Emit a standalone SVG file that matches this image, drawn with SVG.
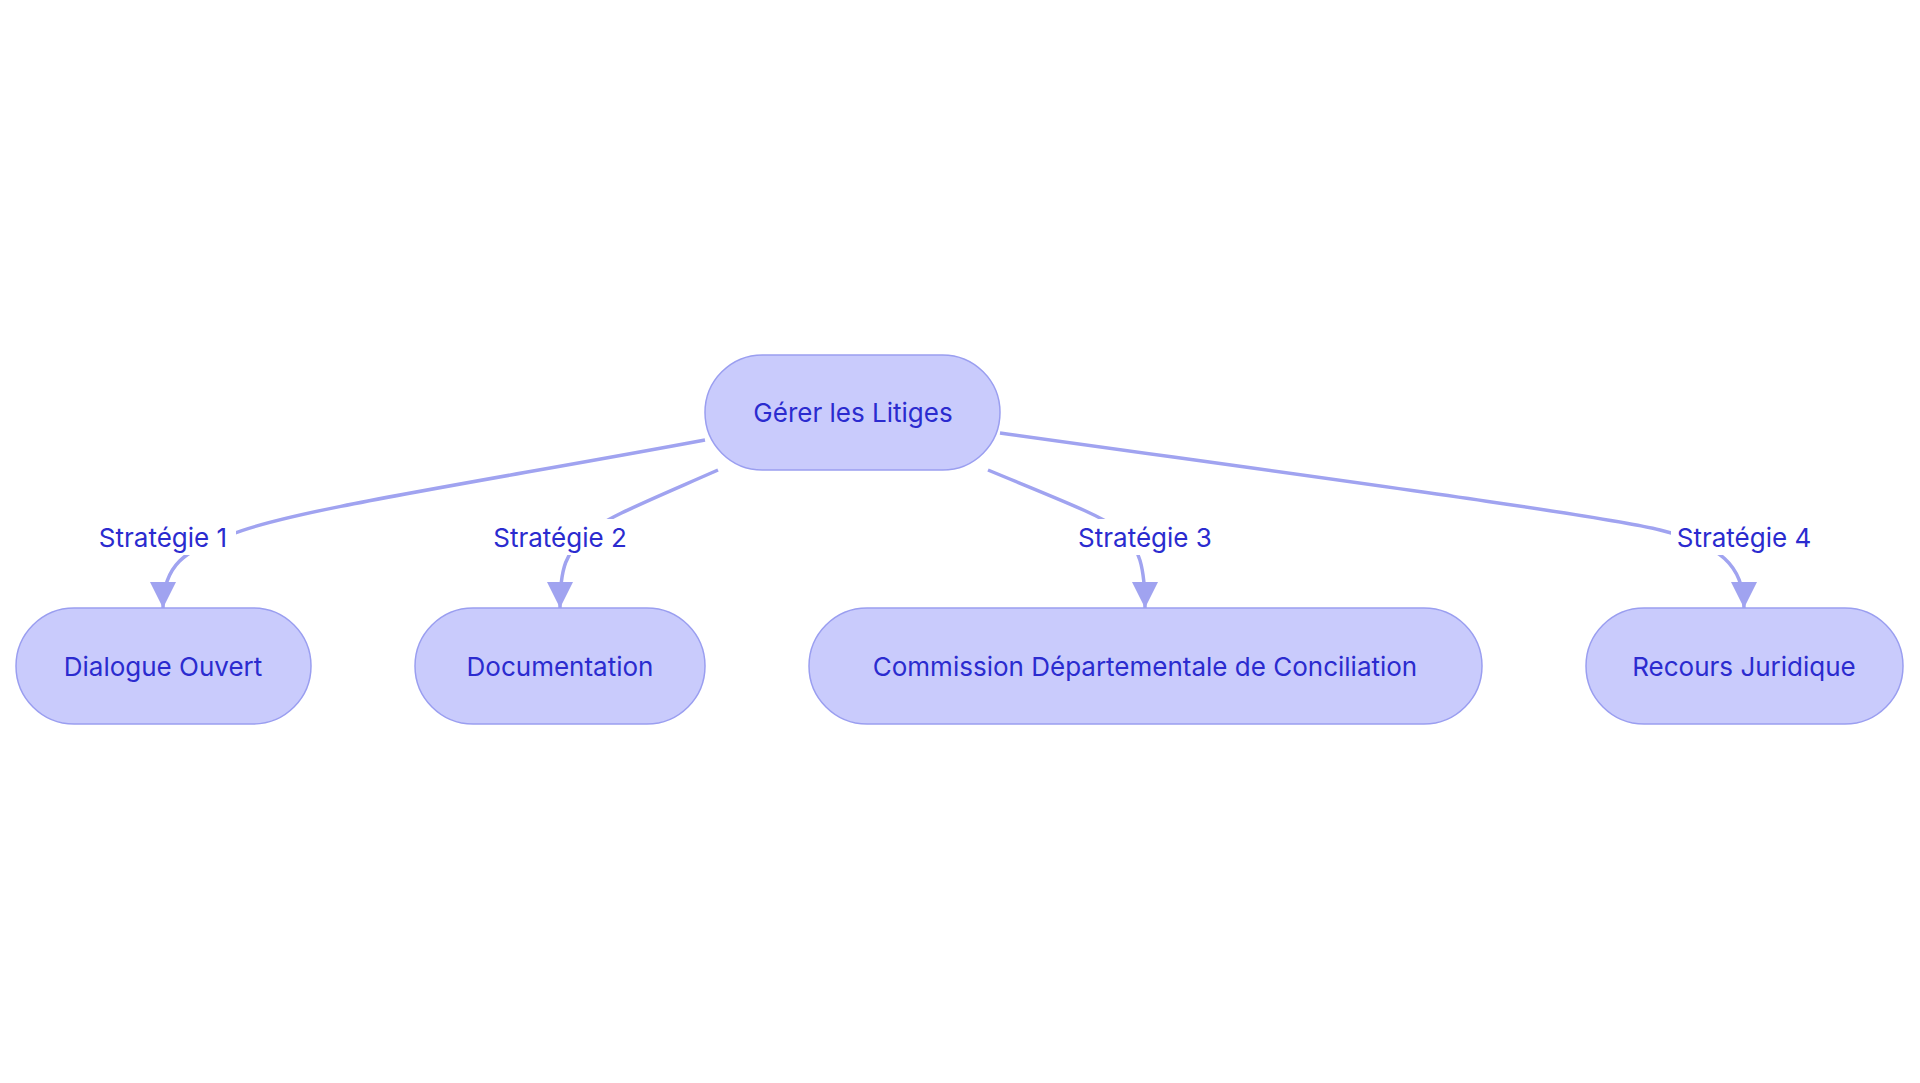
<svg xmlns="http://www.w3.org/2000/svg" width="1920" height="1083" viewBox="0 0 1920 1083">
<style>
.n{fill:#c9cbfc;stroke:#9a9ef0;stroke-width:1.5}
.t{font-family:Inter,"Liberation Sans",sans-serif;font-size:26px;fill:#2b2bcf;text-anchor:middle;dominant-baseline:central}
.e{fill:none;stroke:#a0a3f0;stroke-width:3.5}
.lb{fill:#fff}
</style>
<defs><marker id="a" viewBox="0 0 10 10" refX="10" refY="5" markerWidth="7" markerHeight="7" markerUnits="userSpaceOnUse" orient="auto"><path d="M0,0L10,5L0,10z" fill="#a0a3f0"/></marker>
<marker id="ah" viewBox="0 0 12 12" refX="12" refY="6" markerWidth="26" markerHeight="26" markerUnits="userSpaceOnUse" orient="auto"><path d="M0,0L12,6L0,12z" fill="#a0a3f0"/></marker></defs>
<rect width="1920" height="1083" fill="#fff"/>
<g id="edges">
<path class="e" marker-end="url(#ah)" d="M705,440 C480,482 290,510 230,535 C185,550 163,565 163,608"/>
<path class="e" marker-end="url(#ah)" d="M718,470 C650,500 600,520 590,533 C565,550 560,570 560,608"/>
<path class="e" marker-end="url(#ah)" d="M988,470 C1060,500 1100,515 1120,530 C1140,545 1145,570 1145,608"/>
<path class="e" marker-end="url(#ah)" d="M1000,433 C1300,475 1600,515 1660,530 C1720,545 1744,565 1744,608"/>
<rect class="lb" x="90" y="519" width="146" height="36"/><text class="t" x="163" y="537">Stratégie 1</text>
<rect class="lb" x="487" y="519" width="146" height="36"/><text class="t" x="560" y="537">Stratégie 2</text>
<rect class="lb" x="1072" y="519" width="146" height="36"/><text class="t" x="1145" y="537">Stratégie 3</text>
<rect class="lb" x="1671" y="519" width="146" height="36"/><text class="t" x="1744" y="537">Stratégie 4</text>
</g>
<g id="root"><rect class="n" x="705" y="355" width="295" height="115" rx="57.5"/><text class="t" x="853" y="412">Gérer les Litiges</text></g>
<g id="n1"><rect class="n" x="16" y="608" width="295" height="116" rx="58"/><text class="t" x="163" y="666">Dialogue Ouvert</text></g>
<g id="n2"><rect class="n" x="415" y="608" width="290" height="116" rx="58"/><text class="t" x="560" y="666">Documentation</text></g>
<g id="n3"><rect class="n" x="809" y="608" width="673" height="116" rx="58"/><text class="t" x="1145" y="666">Commission Départementale de Conciliation</text></g>
<g id="n4"><rect class="n" x="1586" y="608" width="317" height="116" rx="58"/><text class="t" x="1744" y="666">Recours Juridique</text></g>
</svg>
